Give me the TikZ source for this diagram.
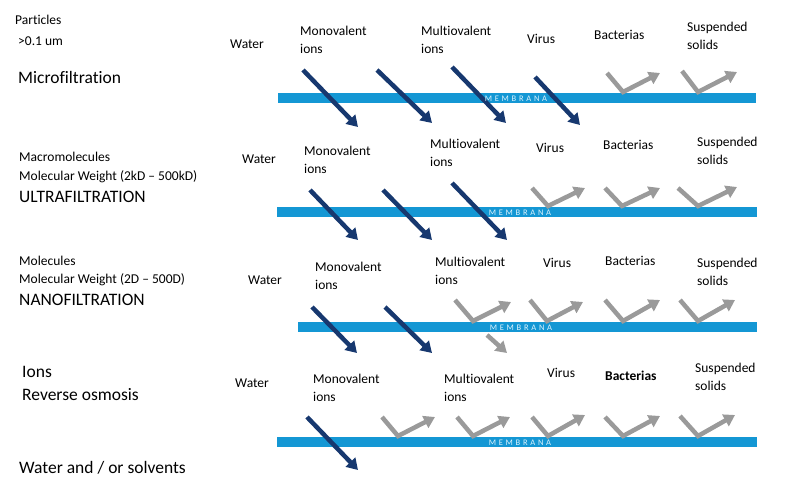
\documentclass[tikz,border=0pt]{standalone}
\usepackage{fontspec}
\setmainfont[Ligatures=NoCommon]{Carlito}
\newfontfamily\membfont[LetterSpace=32]{Carlito}
\usetikzlibrary{arrows.meta}
\definecolor{barblue}{HTML}{1497D4}
\definecolor{passblue}{HTML}{17386F}
\definecolor{bouncegray}{HTML}{9A9A9A}
\definecolor{membtext}{HTML}{DDF3FD}
\tikzset{
  lbl/.style={anchor=west, inner sep=0pt, align=left, font=\fontsize{13.5}{18}\selectfont},
  biglbl/.style={anchor=west, inner sep=0pt, font=\fontsize{17.5}{21}\selectfont},
  membrane/.style={fill=barblue, draw=none, inner sep=0pt},
  membname/.style={text=membtext, inner sep=0pt, font=\membfont\fontsize{8.5}{9}\selectfont},
  passarrow/.style={draw=passblue, line width=4.5pt, -{Triangle[length=11pt,width=13pt]}},
  bouncearrow/.style={draw=bouncegray, line width=4.5pt, -{Triangle[length=11pt,width=13pt]}},
}
\begin{document}
\begin{tikzpicture}[x=1pt,y=-1pt]
  \useasboundingbox (0,0) rectangle (800,486);
  % process names on the left
  \draw
    (15,20) node[lbl] (mfpart){Particles}
    (18,41) node[lbl] (mfsize){>0.1 um}
    (18,77) node[biglbl] (mfname){Microfiltration}
    (19,157) node[lbl] (ufpart){Macromolecules}
    (19,177) node[lbl] (ufsize){Molecular Weight (2kD -- 500kD)}
    (19,197) node[biglbl] (ufname){ULTRAFILTRATION}
    (19,261) node[lbl] (nfpart){Molecules}
    (19,280) node[lbl] (nfsize){Molecular Weight (2D -- 500D)}
    (19,300) node[biglbl] (nfname){NANOFILTRATION}
    (22,372) node[biglbl] (ropart){Ions}
    (22,395) node[biglbl] (roname){Reverse osmosis}
    (19,468) node[biglbl] (solv){Water and / or solvents};
  % species above each membrane
  \draw
    (230,44) node[lbl] (mfwater){Water}
    (300,39.5) node[lbl] (mfmono){Monovalent\\ions}
    (421,39.5) node[lbl] (mfmulti){Multiovalent\\ions}
    (527,39) node[lbl] (mfvirus){Virus}
    (594,35) node[lbl] (mfbact){Bacterias}
    (687,35.5) node[lbl] (mfsolid){Suspended\\solids}
    (242,159) node[lbl] (ufwater){Water}
    (304,160) node[lbl] (ufmono){Monovalent\\ions}
    (430,152.5) node[lbl] (ufmulti){Multiovalent\\ions}
    (536,148) node[lbl] (ufvirus){Virus}
    (603,145) node[lbl] (ufbact){Bacterias}
    (697,150.5) node[lbl] (ufsolid){Suspended\\solids}
    (248,280) node[lbl] (nfwater){Water}
    (315,276) node[lbl] (nfmono){Monovalent\\ions}
    (435,271) node[lbl] (nfmulti){Multiovalent\\ions}
    (543,263) node[lbl] (nfvirus){Virus}
    (605,261) node[lbl] (nfbact){Bacterias}
    (697,272) node[lbl] (nfsolid){Suspended\\solids}
    (235,383) node[lbl] (rowater){Water}
    (313,388) node[lbl] (romono){Monovalent\\ions}
    (444,388) node[lbl] (romulti){Multiovalent\\ions}
    (547,373) node[lbl] (rovirus){Virus}
    (605,376) node[lbl,font=\fontsize{13.5}{18}\selectfont\bfseries] (robact){Bacterias}
    (695,377) node[lbl] (rosolid){Suspended\\solids};
  % membranes
  \node[membrane, minimum width=478pt, minimum height=9.5pt] (mfbar) at (517,98.25) {};
  \node[membrane, minimum width=480pt, minimum height=9.5pt] (ufbar) at (517,212.25) {};
  \node[membrane, minimum width=459pt, minimum height=9.5pt] (nfbar) at (527.5,327) {};
  \node[membrane, minimum width=480pt, minimum height=9.5pt] (robar) at (517,442) {};
  % species that pass
  \begin{scope}[passarrow]
    \draw (303,70) -- (358,127);
    \draw (377,70) -- (432,123);
    \draw (452,67) -- (506,123);
    \draw (535,77) -- (580,125);
    \draw (310,190) -- (358,240);
    \draw (383,190) -- (432,240);
    \draw (452,183) -- (507,240);
    \draw (312,307) -- (357,353);
    \draw (385,307) -- (432,353);
    \draw (307,417) -- (358,470);
  \end{scope}
  % species that are retained
  \begin{scope}[bouncearrow]
    \draw (607,73) -- (623,92) -- (660,73);
    \draw (682,71) -- (698,92) -- (737,72);
    \draw (532,188) -- (548,206) -- (585,188);
    \draw (605,188) -- (622,206) -- (660,188);
    \draw (678,188) -- (698,206) -- (737,187);
    \draw (455,300) -- (473,321) -- (511,302);
    \draw (487,335) -- (507,353);
    \draw (530,300) -- (547,321) -- (583,302);
    \draw (605,300) -- (623,321) -- (660,300);
    \draw (680,300) -- (698,321) -- (735,300);
    \draw (382,417) -- (398,436) -- (435,417);
    \draw (457,417) -- (473,436) -- (510,417);
    \draw (532,417) -- (548,436) -- (585,415);
    \draw (605,417) -- (623,436) -- (660,416);
    \draw (680,416) -- (698,436) -- (735,415);
  \end{scope}
  % membrane names
  \node[membname] (mfmemb) at (516,98.5) {MEMBRANA};
  \node[membname] (ufmemb) at (520,212.5) {MEMBRANA};
  \node[membname] (nfmemb) at (521,327.5) {MEMBRANA};
  \node[membname] (romemb) at (520,442.5) {MEMBRANA};
\end{tikzpicture}
\end{document}
